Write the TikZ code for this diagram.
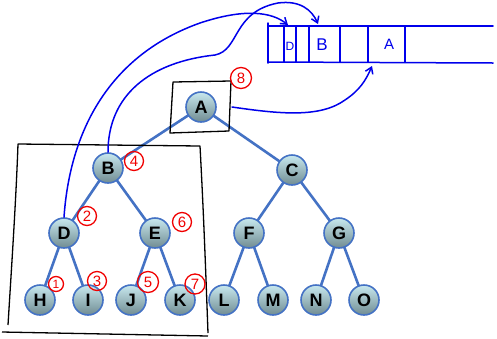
\documentclass[tikz,border=0pt]{standalone}
\usepackage{fontspec}
\setmainfont{Liberation Sans}
\usetikzlibrary{arrows.meta,backgrounds}
\definecolor{edgeblue}{RGB}{68,114,196}
\definecolor{balltop}{RGB}{200,232,238}
\definecolor{ballbot}{RGB}{112,140,146}
\definecolor{penblue}{RGB}{0,0,235}
\definecolor{penred}{RGB}{240,0,0}
\tikzset{
  tnode/.style={circle, minimum size=30pt, inner sep=0pt, draw=edgeblue, line width=1.6pt,
    top color=balltop, bottom color=ballbot, font=\fontsize{18}{20}\selectfont\bfseries},
  tedge/.style={edgeblue, line width=2.6pt},
  pen/.style={penblue, line width=1.5pt, line cap=round, line join=round},
  penarrow/.style={pen, -{Straight Barb[length=6pt,width=8pt]}},
  hand/.style={black, line width=1.3pt, line join=round},
  rednum/.style={circle, draw=penred, line width=1.3pt, text=penred, inner sep=0pt, minimum size=19pt, font=\fontsize{15}{15}\selectfont},
  slot/.style={text=penblue, font=\fontsize{15}{15}\selectfont}
}
\begin{document}
\begin{tikzpicture}[x=1pt,y=-1pt]
\useasboundingbox (0,0) rectangle (497,338);
% tree nodes
\node[tnode] (A) at (201,107) {A};
\node[tnode] (B) at (108,168) {B};
\node[tnode] (C) at (292,170) {C};
\node[tnode] (D) at (64,233) {D};
\node[tnode] (E) at (155,233) {E};
\node[tnode] (F) at (249,233) {F};
\node[tnode] (G) at (339,233) {G};
\node[tnode] (H) at (40,300) {H};
\node[tnode] (I) at (88,300) {I};
\node[tnode] (J) at (131,300) {J};
\node[tnode] (K) at (180,300) {K};
\node[tnode] (L) at (224,300) {L};
\node[tnode] (M) at (273,300) {M};
\node[tnode] (N) at (316,300) {N};
\node[tnode] (O) at (364,300) {O};
\begin{scope}[on background layer]
\foreach \p/\c in {A/B,A/C,B/D,B/E,C/F,C/G,D/H,D/I,E/J,E/K,F/L,F/M,G/N,G/O}
  \draw[tedge] (\p.center) -- (\c.center);
\end{scope}
% hand-drawn boxes
\draw[hand] (173,82) -- (231,81) -- (229,131) -- (170,133) -- cycle;
\draw[hand] (8,325) .. controls (12,260) and (16,200) .. (18,144) -- (200,146) .. controls (204,220) and (206,280) .. (208,333);
\draw[hand] (2,332) -- (208,336);
% array
\draw[pen] (268,23) -- (268,63);
\draw[pen] (268,26) -- (493,26);
\draw[pen] (268,62) -- (493,63);
\foreach \x in {284,296,309,340,368,405} \draw[pen] (\x,27) -- (\x,62);
\node[slot, font=\fontsize{12}{12}\selectfont] (sD) at (290,46) {D};
\node[slot, font=\fontsize{17}{17}\selectfont] (sB) at (322,45) {B};
\node[slot] (sA) at (389,44) {A};
\coordinate (tD) at (288,25);
\coordinate (tB) at (318,24);
\coordinate (tA) at (372,66);
% blue pen arrows
\draw[penarrow] (D.north) .. controls (70,130) and (110,55) .. (200,23) .. controls (245,8) and (272,12) .. (tD);
\draw[penarrow] (B.north) .. controls (108,95) and (150,62) .. (215,55) .. controls (240,50) and (232,12) .. (278,3) .. controls (300,0) and (312,10) .. (tB);
\draw[penarrow] (232,107) .. controls (280,114) and (320,118) .. (345,100) .. controls (360,90) and (366,80) .. (tA);
% red order numbers
\node[rednum, minimum size=21pt] (n8) at (241,78) {8};
\node[rednum] (n4) at (134,161) {4};
\node[rednum] (n2) at (87,216) {2};
\node[rednum] (n6) at (182,222) {6};
\node[rednum, minimum size=15pt, font=\fontsize{12}{12}\selectfont] (n1) at (56,284) {1};
\node[rednum] (n3) at (97,281) {3};
\node[rednum, minimum size=21pt] (n5) at (148,282) {5};
\node[rednum, minimum size=20pt] (n7) at (195,284) {7};
\end{tikzpicture}
\end{document}
